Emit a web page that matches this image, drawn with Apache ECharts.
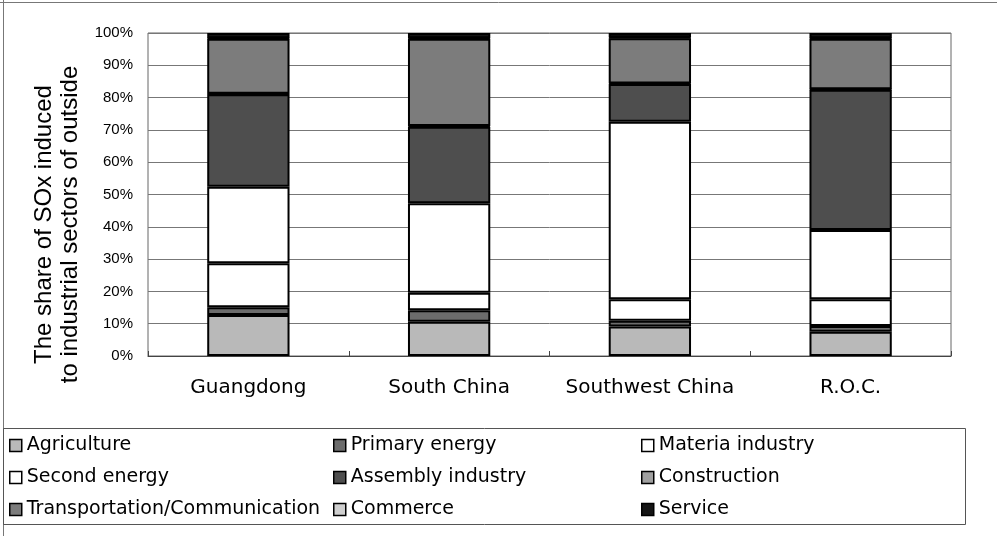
<!DOCTYPE html>
<html>
<head>
<meta charset="utf-8">
<script src="https://cdn.jsdelivr.net/npm/echarts@6/dist/echarts.min.js"></script>
<style>
  html, body { margin: 0; padding: 0; background: #fff; }
  #chart { width: 997px; height: 536px; }
</style>
</head>
<body>
<div id="chart"></div>
<script>
// Regions on the horizontal axis
const regions = ['Guangdong', 'South China', 'Southwest China', 'R.O.C.'];

// Share (%) of SOx induced, by industrial sector, for each region
const agriculture    = [12.7, 10.6,  9.1,  7.5];
const primaryEnergy  = [ 2.4,  3.6,  1.8,  1.8];
const materiaIndustry= [13.6,  5.4,  6.7,  8.3];
const secondEnergy   = [23.7, 27.7, 54.9, 21.4];
const assemblyIndustry=[28.6, 23.7, 11.7, 43.4];
const construction   = [ 0.2,  0.2,  0.2,  0.2];
const transportComm  = [17.0, 27.0, 14.0, 15.6];
const commerce       = [ 0.2,  0.2,  0.2,  0.2];
const service        = [ 1.6,  1.6,  1.4,  1.6];

// Value axis tick labels
const yTicks = ['0%', '10%', '20%', '30%', '40%', '50%', '60%', '70%', '80%', '90%', '100%'];

const sectors = [
  { name: 'Agriculture',                   data: agriculture,      color: '#b9b9b9' },
  { name: 'Primary energy',                data: primaryEnergy,    color: '#6c6c6c' },
  { name: 'Materia industry',              data: materiaIndustry,  color: '#ffffff' },
  { name: 'Second energy',                 data: secondEnergy,     color: '#ffffff' },
  { name: 'Assembly industry',             data: assemblyIndustry, color: '#4e4e4e' },
  { name: 'Construction',                  data: construction,     color: '#a0a0a0' },
  { name: 'Transportation/Communication',  data: transportComm,    color: '#7c7c7c' },
  { name: 'Commerce',                      data: commerce,         color: '#cfcfcf' },
  { name: 'Service',                       data: service,          color: '#151515' }
];

const chart = echarts.init(document.getElementById('chart'), null, { renderer: 'canvas' });

const legendText = { fontFamily: 'DejaVu Sans', fontSize: 19, color: '#000' };
const legendCommon = {
  orient: 'vertical',
  top: 436,
  itemGap: 13,
  itemWidth: 12,
  itemHeight: 12,
  itemTextGap: 3,
  icon: 'rect',
  itemStyle: { borderColor: '#000', borderWidth: 1.5 },
  textStyle: legendText,
  selectedMode: false,
  padding: 0
};

const option = {
  backgroundColor: '#fff',
  animation: false,
  graphic: [
    // outer frame lines
    { type: 'line', shape: { x1: 0, y1: 2.5, x2: 997, y2: 2.5 }, style: { stroke: '#777', lineWidth: 1 } },
    { type: 'line', shape: { x1: 3.5, y1: 0, x2: 3.5, y2: 536 }, style: { stroke: '#777', lineWidth: 1 } },
    // legend box
    { type: 'rect', shape: { x: 3.5, y: 428.5, width: 962, height: 96 },
      style: { fill: 'none', stroke: '#555', lineWidth: 1 } }
  ],
  legend: [
    Object.assign({}, legendCommon, { left: 9,   data: ['Agriculture', 'Second energy', 'Transportation/Communication'] }),
    Object.assign({}, legendCommon, { left: 333, data: ['Primary energy', 'Assembly industry', 'Commerce'] }),
    Object.assign({}, legendCommon, { left: 641, data: ['Materia industry', 'Construction', 'Service'] })
  ],
  grid: {
    left: 148, right: 46, top: 33, bottom: 180,
    show: true, borderColor: '#666', borderWidth: 1, backgroundColor: '#fff'
  },
  xAxis: {
    type: 'category',
    data: regions,
    axisLine: { show: true, lineStyle: { color: '#444', width: 1 } },
    axisTick: { show: true, inside: true, length: 5, lineStyle: { color: '#444' } },
    axisLabel: { interval: 0, fontFamily: 'DejaVu Sans', fontSize: 20, color: '#000', margin: 22 }
  },
  yAxis: {
    type: 'value',
    min: 0, max: 100, interval: 10,
    name: 'The share of SOx induced\nto industrial sectors of outside',
    nameLocation: 'middle',
    nameRotate: 90,
    nameGap: 62,
    nameTextStyle: { fontFamily: 'Liberation Sans', fontSize: 24, lineHeight: 26, color: '#000', padding: [0, 60, 0, 0] },
    axisLine: { show: false },
    axisTick: { show: false },
    axisLabel: {
      fontFamily: 'Liberation Sans', fontSize: 15, color: '#000', margin: 15,
      formatter: function (v) { return yTicks[Math.round(v / 10)]; }
    },
    splitLine: { show: true, lineStyle: { color: '#777', width: 1 } }
  },
  series: sectors.map(function (s) {
    return {
      name: s.name,
      type: 'bar',
      stack: 'share',
      barWidth: '41%',
      data: s.data,
      itemStyle: { color: s.color, borderColor: '#000', borderWidth: 2 },
      emphasis: { disabled: true }
    };
  })
};

chart.setOption(option);
</script>
</body>
</html>
